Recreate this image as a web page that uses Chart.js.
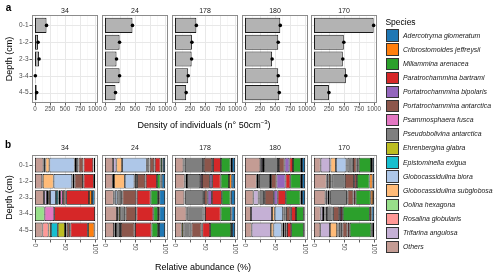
<!DOCTYPE html>
<html><head><meta charset="utf-8">
<script src="https://cdn.jsdelivr.net/npm/chart.js@4"></script>
<style>
body{margin:0;width:500px;height:275px;background:#fff;position:relative;overflow:hidden;font-family:"Liberation Sans",Arial,Helvetica,sans-serif;}
canvas{position:absolute;}
.t{position:absolute;white-space:nowrap;line-height:1;z-index:5;}
.k{position:absolute;box-sizing:border-box;border:1px solid #333;z-index:5;}
</style></head><body>
<script>
const FONT='"Liberation Sans", Arial, Helvetica, sans-serif';
const sites=['34','24','178','180','170'];
const depths=['0-1','1-2','2-3','3-4','4-5'];
const species=['Adercotryma glomeratum','Cribrostomoides jeffreysii','Miliammina arenacea','Paratrochammina bartrami','Portatrochammina bipolaris','Portatrochammina antarctica','Psammosphaera fusca','Pseudobolivina antarctica','Ehrenbergina glabra','Epistominella exigua','Globocassidulina biora','Globocassidulina subglobosa','Oolina hexagona','Rosalina globularis','Trifarina angulosa','Others'];
const speciesColors=['#1f77b4','#ff7f0e','#2ca02c','#d62728','#9467bd','#8c564b','#e377c2','#7f7f7f','#bcbd22','#17becf','#aec7e8','#ffbb78','#98df8a','#ff9896','#c5b0d5','#c49c94'];
const densityTicks=[0,250,500,750,1000];
const densityMinor=[125,375,625,875];
const abundanceTicks=[0,25,50,75,100];
const abundanceLabels=[0,50,100];

// density (n° 50cm-3) per depth, per site
const density34=[192,51,68,6,28];
const density24=[458,243,192,243,175];
const density178=[356,282,277,220,186];
const density180=[588,554,452,554,571];
const density170=[994,497,480,531,249];

// relative abundance (%) rows = depths, columns = species (legend order)
const abund34=[
 [2,0.5,0.5,16,0.5,8,0.5,3.5,0,2.5,42,6.5,0,1,2.5,14],
 [2,0,0,17,1,14,1,2,0,1,31,18,0,0,1,12],
 [4.5,5,0,38,1,4.5,4.5,2.5,1,3.5,10,3,0,2,5,15],
 [0,0,0,68,0,0,16,0,0,0,0,0,16,0,0,0],
 [1,10.5,0.5,29,1,5,1,2,12,11.5,0,4,0,10,0,12.5]];
const abund24=[
 [3.5,1,3,9.5,1,7.5,0.5,3.5,0,1,41,9.5,0,0,5.5,13.5],
 [5.5,2,6,18.5,1,13.5,0,3.5,0,1,16,18,0,0,2,13],
 [9.5,2,12.5,23,1,23,2,6.5,0,0,4,1,0,0,1,14.5],
 [9.5,2,8,28,1,17,1,8,3,1,0,1.5,0,0,0,20],
 [10,1.5,11,27.5,1,22.5,1.5,6.5,2.5,0,0,0,0,0,1,15]];
const abund178=[
 [5,2.5,16,13,1.5,14,1.5,30,1,0.5,0,0,0,0,1,14],
 [5.5,4.5,14,14,4,13,3,22,2,1,0,0,0,0,1,16],
 [6.5,1,14.5,16.5,7,6,1.5,30,1,0.5,0,0,0,0,0,15.5],
 [6,1,17,26,0.5,1,1,27,1.5,0,0,0,0,0,0,19],
 [5,1.5,35,13,1.5,16.5,1.5,12,3,0,0,0,0,0,0,11]];
const abund180=[
 [5,2,13,6,8,9.5,1.5,23,2,1.5,0,0,0,0,3,25.5],
 [5,2,17.5,8,15,9,2,18,1.5,0,0,0,0,0,2.5,19.5],
 [5,2.5,24.5,13.5,6.5,15,1.5,7,1,1,0,0,0,0,8.5,14],
 [1,1,13,8,1.5,7,1,2,1,1,14,4.5,0,0,35,10],
 [1,1,21,7,1,3,1,2,1,1,13.5,4.5,0,0,32,11]];
const abund170=[
 [3,2,20.5,2.5,1,6,0.5,8.5,1,1,17.5,9,0,0.5,16,11],
 [3,5,21,3.5,1.5,15,1,20,1,1,1.5,3,0,0,3,21],
 [1.5,4,25,3,1,9.5,1,28,1,1,2,1,0,0,3,19],
 [4,3,45,3,3,10,1,9.5,2,1,1,2.5,0,0,4,11],
 [2,2.5,36,3,1,8,1,5,1,1,1,12,0,0,16,10.5]];

const densities=[density34,density24,density178,density180,density170];
const abundances=[abund34,abund24,abund178,abund180,abund170];

// layout
const PL=[32,102,172,242,311], PW=66, INS=2;
const TOP={y:15,h:88,axisH:14}, BOT={y:155,h:85,axisH:20};

Chart.defaults.font.family=FONT;

function makeCanvas(left,top,w,h){
  const c=document.createElement('canvas');
  c.width=w;c.height=h;
  c.style.left=left+'px';c.style.top=top+'px';c.style.width=w+'px';c.style.height=h+'px';
  document.body.appendChild(c);return c;
}
function text(str,x,y,css,html){
  const d=document.createElement('div');d.className='t';
  if(html)d.innerHTML=str;else d.textContent=str;
  d.style.cssText+=css;
  d.style.left=x+'px';d.style.top=y+'px';
  d.style.transform='translate(-50%,-50%)';
  document.body.appendChild(d);return d;
}
function line(ctx,x1,y1,x2,y2){ctx.beginPath();ctx.moveTo(x1,y1);ctx.lineTo(x2,y2);ctx.stroke();}

function deco(opt){
  return {
    id:'panelDeco',
    beforeDatasetsDraw(chart){
      const ctx=chart.ctx,a=chart.chartArea,xs=chart.scales.x,ys=chart.scales.y;
      const t=a.top-INS,b=a.bottom+INS;
      ctx.save();
      ctx.strokeStyle='#f3f3f3';ctx.lineWidth=0.6;
      opt.minor.forEach(v=>{const px=xs.getPixelForValue(v);line(ctx,px,t,px,b);});
      ctx.strokeStyle='#e8e8e8';ctx.lineWidth=1;
      opt.major.forEach(v=>{const px=Math.round(xs.getPixelForValue(v))+0.5;line(ctx,px,t,px,b);});
      depths.forEach((d,k)=>{const py=Math.round(ys.getPixelForValue(k))+0.5;line(ctx,a.left,py,a.right,py);});
      ctx.restore();
    },
    afterDraw(chart){
      const ctx=chart.ctx,a=chart.chartArea,xs=chart.scales.x,ys=chart.scales.y;
      const t=a.top-INS,b=a.bottom+INS;
      ctx.save();
      ctx.strokeStyle='#8c8c8c';ctx.lineWidth=1;
      ctx.strokeRect(Math.round(a.left)+0.5,Math.round(t)+0.5,Math.round(a.right-a.left)-1,Math.round(b-t)-1);
      ctx.strokeStyle='#333';ctx.lineWidth=0.8;
      opt.major.forEach(v=>{const px=Math.round(xs.getPixelForValue(v))+0.5;line(ctx,px,b,px,b+2.5);});
      if(opt.first){depths.forEach((d,k)=>{const py=Math.round(ys.getPixelForValue(k))+0.5;line(ctx,a.left-2.5,py,a.left,py);});}
      if(opt.rot){
        ctx.fillStyle='#4d4d4d';ctx.font='6.3px '+FONT;ctx.textAlign='left';ctx.textBaseline='middle';
        opt.rot.forEach(v=>{const px=xs.getPixelForValue(v);ctx.save();ctx.translate(px,b+3.5);ctx.rotate(Math.PI/2);ctx.fillText(String(v),0,0);ctx.restore();});
      }
      ctx.restore();
    }
  };
}

function buildPanel(i,top){
  const first=i===0;
  const G=top?TOP:BOT;
  const padT=8,padR=12,padL=first?0:12;
  const left=first?0:PL[i]-padL;
  const w=(first?PL[0]:padL)+PW+padR;
  const h=padT+G.h+G.axisH;
  const c=makeCanvas(left,G.y-padT,w,h);
  let datasets;
  if(top){
    datasets=[
      {type:'line',indexAxis:'y',data:densities[i],showLine:false,pointRadius:1.8,pointHoverRadius:1.8,pointBackgroundColor:'#000',pointBorderColor:'#000',pointBorderWidth:0,order:0},
      {type:'bar',indexAxis:'y',data:densities[i],backgroundColor:'#b3b3b3',borderColor:'#1a1a1a',borderWidth:1,borderSkipped:false,barPercentage:0.9,categoryPercentage:1,order:1}
    ];
  }else{
    datasets=[];
    for(let s=species.length-1;s>=0;s--){
      datasets.push({type:'bar',indexAxis:'y',label:species[s],data:abundances[i].map(r=>r[s]),backgroundColor:speciesColors[s],borderColor:'#000',borderWidth:0.8,borderSkipped:false,barPercentage:0.9,categoryPercentage:1});
    }
  }
  new Chart(c,{
    type:'bar',
    data:{labels:depths,datasets},
    options:{
      indexAxis:'y',responsive:false,animation:false,devicePixelRatio:1,
      layout:{padding:{left:padL,right:padR,top:padT+INS,bottom:0}},
      plugins:{legend:{display:false},tooltip:{enabled:false}},
      scales:{
        x:{type:'linear',min:top?-50:-5,max:top?1050:105,stacked:!top,
          grid:{display:false,drawTicks:false},border:{display:false},
          afterBuildTicks:s=>{s.ticks=(top?densityTicks:abundanceTicks).map(v=>({value:v}));},
          ticks:{display:top,autoSkip:false,maxRotation:0,minRotation:0,padding:INS+2,font:{size:6.3},color:'#4d4d4d',callback:v=>String(v)},
          afterFit:s=>{s.height=G.axisH+INS;}},
        y:{type:'category',display:first,stacked:!top,offset:true,
          grid:{display:false,drawTicks:false},border:{display:false},
          ticks:{padding:3.5,font:{size:6.5},color:'#4d4d4d'},
          title:{display:true,text:'Depth (cm)',font:{size:9},color:'#000',padding:{top:4.6,bottom:0}},
          afterFit:s=>{s.width=first?PL[0]:0;}}
      }
    },
    plugins:[deco({first,major:top?densityTicks:abundanceTicks,minor:top?densityMinor:[],rot:top?null:abundanceLabels})]
  });
}

for(let i=0;i<sites.length;i++){buildPanel(i,true);buildPanel(i,false);}

// strip labels
sites.forEach((s,i)=>{
  text(s,PL[i]+PW/2,10,'font-size:7px;color:#1a1a1a;');
  text(s,PL[i]+PW/2,147,'font-size:7px;color:#1a1a1a;');
});
text('a',8.5,7.8,'font-size:10px;font-weight:bold;color:#000;');
text('b',8,144.5,'font-size:10px;font-weight:bold;color:#000;');
text('Density of individuals (n° 50cm<sup style="font-size:6px;vertical-align:4px;line-height:0">−3</sup>)',204,125,'font-size:9px;color:#000;',true);
text('Relative abundance (%)',203,267,'font-size:9px;color:#000;');

// legend
text('Species',400.5,22,'font-size:8.5px;color:#000;');
species.forEach((sp,k)=>{
  const y=29.3+k*14.1;
  const d=document.createElement('div');d.className='k';
  d.style.left='385.5px';d.style.top=y+'px';d.style.width='13.5px';d.style.height='12.6px';d.style.background=speciesColors[k];
  document.body.appendChild(d);
  const tx=document.createElement('div');tx.className='t';tx.textContent=sp;
  tx.style.cssText+='font-size:6.9px;font-style:italic;color:#1a1a1a;';
  tx.style.left='403px';tx.style.top=(y+6.3)+'px';tx.style.transform='translateY(-50%)';
  document.body.appendChild(tx);
});
</script>
</body></html>
